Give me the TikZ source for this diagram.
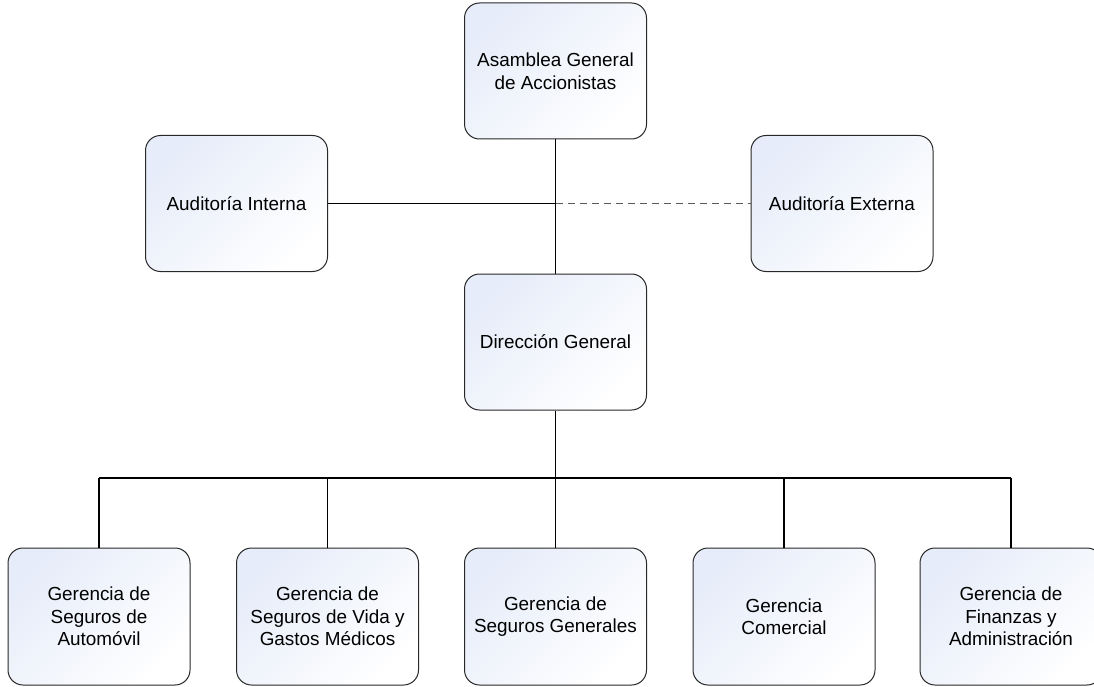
\documentclass[tikz,border=0pt]{standalone}
\usepackage{fontspec}
\setmainfont{Liberation Sans}
\usepackage{tikz}
\usetikzlibrary{positioning}

\definecolor{gradblue}{RGB}{230,236,249}
\definecolor{boxline}{RGB}{40,40,40}
\definecolor{dashgray}{RGB}{90,90,90}

\begin{document}
\begin{tikzpicture}[x=1pt, y=-1pt, >=latex, auto]

    \tikzstyle{unit}=[draw=boxline, line width=1pt, rounded corners=15pt,
      minimum width=182pt, minimum height=136pt, align=center,
      top color=gradblue, bottom color=white, shading angle=45,
      font=\fontsize{18.9}{22.5}\selectfont];
    \tikzstyle{link}=[line width=1.5pt];

    \useasboundingbox (0,0) rectangle (1094,687);

    \node [unit](asamblea) at (555.5, 71){Asamblea General\\de Accionistas};
    \node [unit](interna) at (236.5, 203.5){Auditoría Interna};
    \node [unit](externa) at (842, 203.5){Auditoría Externa};
    \node [unit](direccion) at (555.5, 342){Dirección General};

    \node [unit, minimum height=137pt](automovil) at (99, 616.5){Gerencia de\\Seguros de\\Automóvil};
    \node [unit, minimum height=137pt](vida) at (327.5, 616.5){Gerencia de\\Seguros de Vida y\\Gastos Médicos};
    \node [unit, minimum height=137pt](generales) at (555.5, 616.5){Gerencia de\\Seguros Generales};
    \node [unit, minimum height=137pt](comercial) at (784, 616.5){Gerencia\\Comercial};
    \node [unit, minimum height=137pt](finanzas) at (1011, 616.5){Gerencia de\\Finanzas y\\Administración};

    \coordinate (bus) at (555.5, 478);

    \draw [link] (asamblea) -- (direccion);
    \draw [link] (interna) -- (interna -| asamblea);
    \draw [dashgray, line width=1.3pt, dash pattern=on 7pt off 5pt] (interna -| asamblea) -- (externa);

    \draw [link] (direccion) -- (bus);
    \draw [link] (automovil |- bus) -- (finanzas |- bus);
    \foreach \g in {automovil, vida, generales, comercial, finanzas}
      \draw [link] (\g |- bus) -- (\g);

\end{tikzpicture}
\end{document}
